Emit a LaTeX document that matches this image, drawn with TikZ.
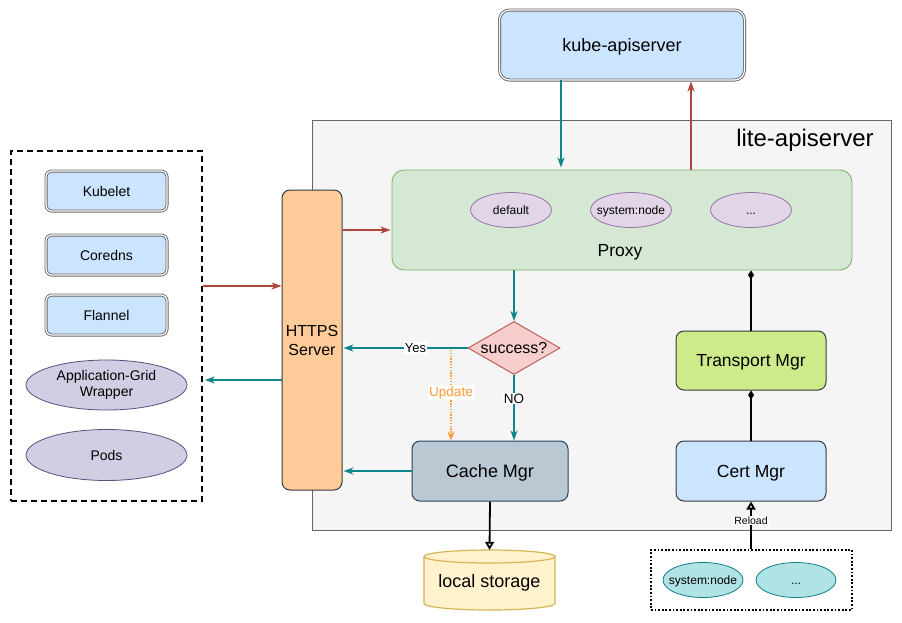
\documentclass[tikz,border=0pt]{standalone}
\usepackage{fontspec}
\setmainfont{Liberation Sans}
\usetikzlibrary{arrows.meta,shapes.geometric}
\definecolor{tealc}{HTML}{12848C}
\definecolor{redc}{HTML}{B0463A}
\definecolor{orangec}{HTML}{FF9933}
\definecolor{bluef}{HTML}{CCE5FF}
\definecolor{darks}{HTML}{36393D}
\definecolor{greyb}{HTML}{666666}
\definecolor{purplef}{HTML}{D0CEE2}
\definecolor{purples}{HTML}{56517E}
\definecolor{orangef}{HTML}{FFCC99}
\definecolor{greenf}{HTML}{D5E8D4}
\definecolor{greens}{HTML}{82B366}
\definecolor{violf}{HTML}{E1D5E7}
\definecolor{viols}{HTML}{9673A6}
\definecolor{pinkf}{HTML}{F8CECC}
\definecolor{pinks}{HTML}{B85450}
\definecolor{slatef}{HTML}{BAC8D3}
\definecolor{slates}{HTML}{23445D}
\definecolor{limef}{HTML}{CDEB8B}
\definecolor{yellowf}{HTML}{FFF2CC}
\definecolor{yellows}{HTML}{D6B656}
\definecolor{cyanf}{HTML}{B0E3E6}
\definecolor{cyans}{HTML}{0E8088}
\definecolor{litef}{HTML}{F5F5F5}
\newcommand{\fs}[1]{\fontsize{#1}{#1}\selectfont}
\tikzset{
  dblbox/.style={draw=greyb, double=white, double distance=1.2pt, line width=0.9pt, fill=bluef, rounded corners=6pt, inner sep=0pt, align=center},
  plainbox/.style={draw=darks, line width=1pt, rounded corners=8pt, inner sep=0pt, align=center},
  ell/.style={ellipse, draw, line width=0.8pt, inner sep=0pt, align=center},
  ctext/.style={text height=#1, text depth=0pt},
  tealarrow/.style={draw=tealc, line width=1.6pt, -{Stealth[length=10pt,width=7pt,inset=3pt]}},
  redarrow/.style={draw=redc, line width=1.6pt, -{Stealth[length=10pt,width=7pt,inset=3pt]}},
  openarrow/.style={draw=black, line width=1.8pt, -{Triangle[open,length=8pt,width=9pt]}},
  diamarrow/.style={draw=black, line width=1.8pt, -{Diamond[length=9pt,width=6pt]}},
  lbl/.style={fill=white, inner sep=1pt}
}
\begin{document}
\begin{tikzpicture}[x=1pt,y=-1pt]
\useasboundingbox (0,0) rectangle (902,622);
\fill[white] (0,0) rectangle (902,622);

% lite-apiserver container
\node[draw=greyb, fill=litef, line width=0.8pt, minimum width=579pt, minimum height=410pt, inner sep=0pt] (lite) at (601.5,325) {};
\node[inner sep=0pt, font=\fs{24}] (litelbl) at (805,140) {lite-apiserver};

% kube-apiserver
\node[dblbox, minimum width=245pt, minimum height=70pt, rounded corners=10pt, font=\fs{18}, ctext=13pt] (kube) at (622,45) {kube-apiserver};

% left dashed group
\node[draw=black, dash pattern=on 6pt off 4pt, line width=1.8pt, minimum width=191pt, minimum height=350pt, inner sep=0pt] (lbox) at (106.5,326) {};
\node[dblbox, minimum width=121pt, minimum height=40pt, font=\fs{14}, ctext=10pt] (kubelet) at (106.5,191) {Kubelet};
\node[dblbox, minimum width=121pt, minimum height=40pt, font=\fs{14}, ctext=10pt] (coredns) at (106.5,255) {Coredns};
\node[dblbox, minimum width=121pt, minimum height=40pt, font=\fs{14}, ctext=10pt] (flannel) at (106.5,315) {Flannel};
\node[ell, draw=purples, fill=purplef, minimum width=161pt, minimum height=50pt, font=\fontsize{14}{16.5}\selectfont] (appgrid) at (106.5,385) {Application-Grid\\Wrapper};
\node[ell, draw=purples, fill=purplef, minimum width=161pt, minimum height=51pt, font=\fs{14}, ctext=10pt] (pods) at (106.5,455) {Pods};

% HTTPS server
\node[plainbox, fill=orangef, minimum width=60pt, minimum height=300pt, font=\fs{16}] (https) at (312,340) {HTTPS\\[3pt]Server};

% Proxy
\node[draw=greens, fill=greenf, line width=0.9pt, rounded corners=12pt, minimum width=460pt, minimum height=100pt, inner sep=0pt] (proxy) at (622,220) {};
\node[inner sep=0pt, font=\fs{17.5}, ctext=12.6pt] (proxylbl) at (620,250) {Proxy};
\node[ell, draw=viols, fill=violf, minimum width=81pt, minimum height=35pt, font=\fs{12}, ctext=8.6pt] (pdef) at (511,210) {default};
\node[ell, draw=viols, fill=violf, minimum width=81pt, minimum height=35pt, inner xsep=-6pt, font=\fs{12}, ctext=8.6pt] (psys) at (631,210) {system:node};
\node[ell, draw=viols, fill=violf, minimum width=81pt, minimum height=35pt, font=\fs{12}, ctext=8.6pt] (pdots) at (751,210) {...};

% success diamond
\node[diamond, aspect=1.74, draw=pinks, fill=pinkf, line width=0.9pt, minimum width=92pt, minimum height=53pt, inner sep=0pt, font=\fs{16}, ctext=11.5pt] (succ) at (514,348) {success?};

% Cache Mgr
\node[plainbox, draw=slates, fill=slatef, minimum width=156pt, minimum height=60pt, font=\fs{18}, ctext=13pt] (cache) at (490,471) {Cache Mgr};

% Transport and Cert Mgr
\node[plainbox, fill=limef, minimum width=150pt, minimum height=59pt, font=\fs{17.5}, ctext=12.6pt] (transport) at (751,360.5) {Transport Mgr};
\node[plainbox, fill=bluef, minimum width=150pt, minimum height=60pt, font=\fs{17.5}, ctext=12.6pt] (cert) at (751,471) {Cert Mgr};

% local storage cylinder
\node[minimum width=131pt, minimum height=60pt, inner sep=0pt] (storage) at (489.5,580) {};
\fill[yellowf] (424,556.5) -- (424,603.5) arc[start angle=180, end angle=360, x radius=65.5pt, y radius=6.5pt] -- (555,556.5) arc[start angle=0, end angle=180, x radius=65.5pt, y radius=6.5pt] -- cycle;
\draw[yellows, line width=1.2pt] (424,556.5) -- (424,603.5) arc[start angle=180, end angle=360, x radius=65.5pt, y radius=6.5pt] -- (555,556.5);
\draw[yellows, line width=1.2pt] (489.5,556.5) ellipse[x radius=65.5pt, y radius=6.5pt];
\node[inner sep=0pt, font=\fs{18}, ctext=13pt] (storagelbl) at (489.5,581) {local storage};

% bottom right dotted group
\node[draw=black, dash pattern=on 1.8pt off 1.8pt, line width=1.8pt, minimum width=201pt, minimum height=60pt, inner sep=0pt] (dbox) at (751.5,580) {};
\node[ell, draw=cyans, fill=cyanf, minimum width=80pt, minimum height=35pt, inner xsep=-6pt, font=\fs{12}, ctext=8.6pt] (csys) at (703,580) {system:node};
\node[ell, draw=cyans, fill=cyanf, minimum width=80pt, minimum height=35pt, font=\fs{12}, ctext=8.6pt] (cdots) at (796,580) {...};

% connectors
\coordinate (l1) at ([yshift=40pt]lbox.east);
\draw[redarrow] (l1) -- (l1 -| https.west);
\coordinate (h2) at ([yshift=-40pt]https.west);
\draw[tealarrow] (h2) -- ([xshift=2pt]h2 -| lbox.east);
\coordinate (p1) at ([yshift=-10pt]proxy.west);
\draw[redarrow] (https.east |- p1) -- ([xshift=-1pt]p1);
\coordinate (k1) at ([xshift=-61pt]kube.south);
\draw[tealarrow] (k1) -- ([yshift=2pt]k1 |- proxy.north);
\coordinate (k2) at ([xshift=69pt]kube.south);
\draw[redarrow] (k2 |- proxy.north) -- ([yshift=-1pt]k2);
\draw[tealarrow] (proxy.south -| succ.north) -- (succ.north);
\draw[tealarrow] (succ.west) -- ([xshift=1pt]succ.west -| https.east) node[lbl, pos=0.42, font=\fs{13}] (yeslbl) {Yes};
\coordinate (u1) at (451,350);
\draw[orangec, line width=1.4pt, dash pattern=on 1.4pt off 1.4pt, -{Stealth[length=9pt,width=7pt,inset=3pt]}] (u1) -- (u1 |- cache.north) node[lbl, pos=0.47, text=orangec, font=\fs{13.5}] (updlbl) {Update};
\draw[tealarrow] (succ.south) -- (succ.south |- cache.north) node[lbl, pos=0.36, font=\fs{13.5}] (nolbl) {NO};
\draw[tealarrow] (cache.west) -- ([xshift=1pt]cache.west -| https.east);
\draw[openarrow] (cache.south) -- (storage.north);
\draw[diamarrow] (transport.north) -- (transport.north |- proxy.south);
\draw[diamarrow] (cert.north) -- (transport.south);
\draw[openarrow] (dbox.north -| cert.south) -- (cert.south) node[lbl, pos=0.6, font=\fs{10.5}] (rellbl) {Reload};
\end{tikzpicture}
\end{document}
